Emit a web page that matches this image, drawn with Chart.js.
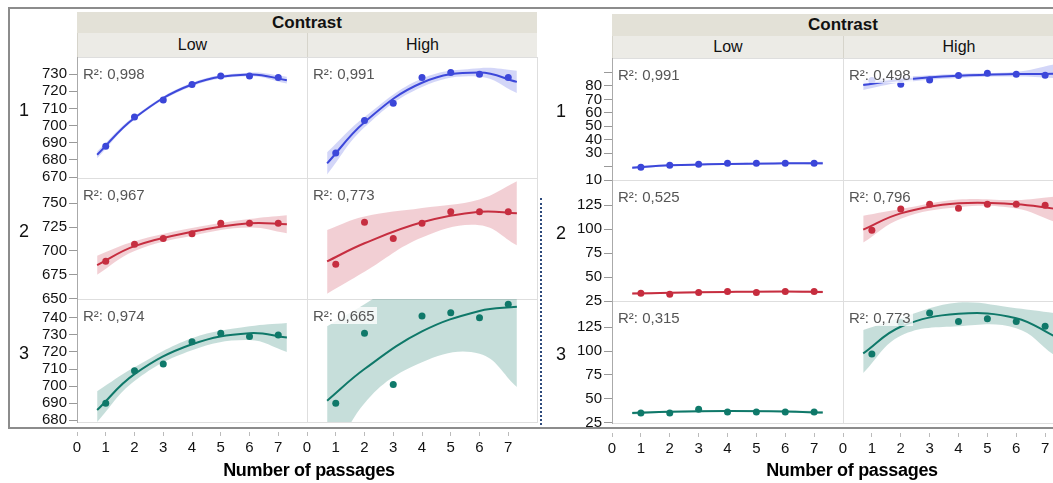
<!DOCTYPE html>
<html>
<head>
<meta charset="utf-8">
<script src="https://cdn.jsdelivr.net/npm/chart.js@4/dist/chart.umd.min.js"></script>
<style>
  body { margin: 0; width: 1053px; height: 483px; overflow: hidden; background: #fff;
         font-family: "Liberation Sans", Arial, sans-serif; }
  #fig { position: absolute; left: 0; top: 0; width: 1053px; height: 483px; overflow: hidden; }
  .a { position: absolute; box-sizing: border-box; }
  .hd1 { background: #e3e1d7; font-weight: bold; font-size: 17px; text-align: center; color: #111; }
  .hd2 { background: #ecebe6; font-size: 16px; text-align: center; color: #111; border-left: 1px solid #d6d4cb; }
  .cellbox { border: 1px solid #dedede; }
  .r2 { font-size: 15px; color: #555; background: rgba(255,255,255,0.78); padding: 0 2px; line-height: 17px; white-space: nowrap; }
  .rowlab { font-size: 18px; color: #111; width: 20px; text-align: center; }
  .xt { font-size: 18px; font-weight: bold; color: #000; letter-spacing: -0.3px; white-space: nowrap; text-align: center; width: 240px; }
</style>
</head>
<body>
<div id="fig"></div>
<script>
// x values
const passages = [1, 2, 3, 4, 5, 6, 7];
const fitX = [0.7, 2, 4, 6, 7.3];
const xTicks = [0, 1, 2, 3, 4, 5, 6, 7];

// left block: points, fitted curve and confidence band (lo / hi)
const aLow1 = [688, 705, 715, 724, 729, 729, 728];
const aLow1Fit = [683, 704.5, 724, 729.8, 726.5];
const aLow1Lo = [681, 703.5, 723, 728.8, 724.5];
const aLow1Hi = [685, 705.5, 725, 730.8, 728.5];

const aHigh1 = [684, 703, 713, 728, 731, 730, 728];
const aHigh1Fit = [678, 702, 725, 731, 725.5];
const aHigh1Lo = [671.5, 699, 722.5, 728.5, 719];
const aHigh1Hi = [684.5, 705, 727.5, 733.5, 732];

const aLow2 = [689, 707, 713, 718, 729, 729, 729];
const aLow2Fit = [685, 705, 720, 729, 728];
const aLow2Lo = [675, 700, 716, 724.5, 718.5];
const aLow2Hi = [695, 710, 724, 733.5, 737.5];

const aHigh2 = [686, 730, 713, 729, 741, 741, 741];
const aHigh2Fit = [689, 708, 730, 741, 739.5];
const aHigh2Lo = [655, 678, 714, 727, 706];
const aHigh2Hi = [722, 736, 745, 754, 773];

const aLow3 = [690, 709, 713, 726, 731, 729, 730];
const aLow3Fit = [686, 707, 724.5, 731, 728.5];
const aLow3Lo = [679, 703, 721, 727, 720];
const aLow3Hi = [697, 711, 728, 735, 737];

const aHigh3 = [690, 731, 701, 741, 743, 740, 748];
const aHigh3Fit = [691.5, 710, 732, 744, 746.5];
const aHigh3Lo = [648, 690, 714, 719, 699.5];
const aHigh3Hi = [735, 748, 768, 780, 793];

// right block
const bLow1 = [19.5, 21, 21.7, 22.4, 22.4, 22.4, 22.4];
const bLow1Fit = [19.2, 20.9, 22, 22.4, 22.4];
const bLow1Lo = [18.2, 20.2, 21.3, 21.7, 21.2];
const bLow1Hi = [20.2, 21.6, 22.7, 23.1, 23.6];

const bHigh1 = [84, 81.3, 84.5, 87.7, 89.4, 88.7, 88];
const bHigh1Fit = [80.7, 84.5, 87.5, 88.8, 89];
const bHigh1Lo = [77, 82.5, 86, 87, 86];
const bHigh1Hi = [84.5, 86.5, 89, 90.5, 96];

const bLow2 = [33, 32, 34, 35, 34, 35, 35];
const bLow2Fit = [32.8, 33.5, 34.5, 35, 34.5];
const bLow2Lo = [31.5, 32.5, 33.7, 34.2, 33];
const bLow2Hi = [34.1, 34.5, 35.3, 35.8, 36];

const bHigh2 = [99, 121, 126, 122, 126, 126, 125];
const bHigh2Fit = [99.5, 116.5, 127, 126, 121.5];
const bHigh2Lo = [86, 111, 123, 121.5, 108];
const bHigh2Hi = [114, 121, 131, 130.5, 134];

const bLow3 = [35, 35, 39, 36, 36, 36, 36];
const bLow3Fit = [35, 36.3, 37, 36.5, 35.5];
const bLow3Lo = [33.5, 35.2, 36, 35.5, 34];
const bLow3Hi = [36.5, 37.4, 38, 37.5, 37];

const bHigh3 = [97, 130, 140, 131, 134, 131, 126];
const bHigh3Fit = [97.5, 125.5, 139, 134.5, 116];
const bHigh3Lo = [77, 116, 126, 124, 96];
const bHigh3Hi = [122, 135, 151, 145, 140];

// R² labels, row by row (Low, High)
const aR2 = ['0,998', '0,991', '0,967', '0,773', '0,974', '0,665'];
const bR2 = ['0,991', '0,498', '0,525', '0,796', '0,315', '0,773'];

// y tick values per row
const aTicks1 = [670, 680, 690, 700, 710, 720, 730];
const aTicks2 = [650, 675, 700, 725, 750];
const aTicks3 = [680, 690, 700, 710, 720, 730, 740];
const bTicks1 = [10, 20, 30, 40, 50, 60, 70, 80, 90];
const bLabels1 = ['10', '', '30', '40', '50', '60', '70', '80', ''];
const bTicks2 = [25, 50, 75, 100, 125];
const bTicks3 = [25, 50, 75, 100, 125];

const colors = [
  { line: '#3a45d8', band: 'rgba(70,85,225,0.24)' },
  { line: '#c62c3d', band: 'rgba(200,55,75,0.24)' },
  { line: '#0f7a6b', band: 'rgba(15,115,100,0.24)' }
];

Chart.defaults.font.family = '"Liberation Sans", Arial, sans-serif';

const fig = document.getElementById('fig');
const AXW = 70, XH = 40, M = 12;

function div(cls, x, y, w, h, text, css) {
  const d = document.createElement('div');
  d.className = 'a ' + cls;
  d.style.left = x + 'px'; d.style.top = y + 'px';
  if (w != null) d.style.width = w + 'px';
  if (h != null) { d.style.height = h + 'px'; d.style.lineHeight = h + 'px'; }
  if (text != null) d.textContent = text;
  if (css) d.style.cssText += css;
  fig.appendChild(d);
  return d;
}

const xy = (xs, ys) => xs.map((x, i) => ({ x: x, y: ys[i] }));

function cell(px, py, w, h, o) {
  div('cellbox', px, py, w + 1, h + 1);
  // margins round the plot area so edge labels are not cut
  const pad = { left: o.yAxis ? 0 : M, right: M, top: M, bottom: o.xAxis ? 0 : M };
  const left = o.yAxis ? AXW : M;
  const bottom = o.xAxis ? XH : M;
  const cw = w + left + M, ch = h + M + bottom;
  const c = document.createElement('canvas');
  c.width = cw; c.height = ch;
  c.className = 'a';
  c.style.left = (px - left) + 'px'; c.style.top = (py - M) + 'px';
  c.style.width = cw + 'px'; c.style.height = ch + 'px';
  fig.appendChild(c);
  const col = colors[o.row];
  new Chart(c, {
    type: 'line',
    data: {
      datasets: [
        { data: xy(fitX, o.lo), borderColor: 'transparent', pointRadius: 0, fill: false, tension: 0.4, clip: 0 },
        { data: xy(fitX, o.hi), borderColor: 'transparent', pointRadius: 0, fill: '-1', backgroundColor: col.band, tension: 0.4, clip: 0 },
        { data: xy(fitX, o.fit), borderColor: col.line, borderWidth: 2, pointRadius: 0, fill: false, tension: 0.4, clip: 0 },
        { data: xy(passages, o.pts), showLine: false, pointRadius: 3.5, pointBorderWidth: 0,
          pointBackgroundColor: col.line, backgroundColor: col.line, clip: 0 }
      ]
    },
    options: {
      responsive: false, animation: false, devicePixelRatio: 1, events: [],
      layout: { padding: pad, autoPadding: false },
      plugins: { legend: { display: false }, tooltip: { enabled: false } },
      scales: {
        x: {
          type: 'linear', min: 0, max: 8, display: !!o.xAxis,
          afterBuildTicks: s => { s.ticks = xTicks.map(v => ({ value: v })); },
          afterFit: s => { if (o.xAxis) s.height = XH; s.paddingLeft = 0; s.paddingRight = 0; },
          ticks: { color: '#111', font: { size: 15 }, padding: 3, maxRotation: 0, autoSkip: false },
          grid: { drawOnChartArea: false, tickLength: 14, tickColor: '#bbb',
                  tickBorderDash: [4, 100], tickBorderDashOffset: -10 },
          border: { display: false }
        },
        y: {
          type: 'linear', min: o.range[0], max: o.range[1], display: !!o.yAxis,
          afterBuildTicks: s => { s.ticks = o.ticks.map(v => ({ value: v })); },
          afterFit: s => { if (o.yAxis) s.width = AXW; s.paddingTop = 0; s.paddingBottom = 0; },
          ticks: { color: '#111', font: { size: 15 }, padding: 2, autoSkip: false,
                   callback: (v, i) => o.labels ? o.labels[i] : String(v) },
          grid: { drawOnChartArea: false, tickLength: 8, tickColor: '#999' },
          border: { display: true, color: '#aaa', width: 1 }
        }
      }
    }
  });
  div('r2', px + 4, py + 8, null, null, 'R²: ' + o.r2);
}

// ---- left block ----
const aCols = [77, 307, 537];
const aRows = [57, 178, 299, 422];
div('hd1', 77, 12, 460, 21, 'Contrast');
div('hd2', 77, 33, 230, 24, 'Low');
div('hd2', 307, 33, 230, 24, 'High');

const aData = [
  [aLow1, aLow1Fit, aLow1Lo, aLow1Hi, aHigh1, aHigh1Fit, aHigh1Lo, aHigh1Hi, aTicks1, [669.5, 740]],
  [aLow2, aLow2Fit, aLow2Lo, aLow2Hi, aHigh2, aHigh2Fit, aHigh2Lo, aHigh2Hi, aTicks2, [649.5, 776.5]],
  [aLow3, aLow3Fit, aLow3Lo, aLow3Hi, aHigh3, aHigh3Fit, aHigh3Lo, aHigh3Hi, aTicks3, [679, 751]]
];
aData.forEach((d, r) => {
  const top = aRows[r], h = aRows[r + 1] - aRows[r];
  for (let k = 0; k < 2; k++) {
    cell(aCols[k], top, aCols[k + 1] - aCols[k], h, {
      row: r, pts: d[k * 4], fit: d[k * 4 + 1], lo: d[k * 4 + 2], hi: d[k * 4 + 3],
      ticks: d[8], range: d[9], yAxis: k === 0, xAxis: r === 2, r2: aR2[r * 2 + k]
    });
  }
  div('rowlab', 14, top + h / 2 - 18, null, 20, String(r + 1));
});

// ---- right block ----
const bCols = [612, 843, 1074];
const bRows = [58, 180, 301, 423];
div('hd1', 612, 14, 462, 22, 'Contrast');
div('hd2', 612, 36, 231, 22, 'Low');
div('hd2', 843, 36, 231, 22, 'High');

const bData = [
  [bLow1, bLow1Fit, bLow1Lo, bLow1Hi, bHigh1, bHigh1Fit, bHigh1Lo, bHigh1Hi, bTicks1, [10, 100.8], bLabels1],
  [bLow2, bLow2Fit, bLow2Lo, bLow2Hi, bHigh2, bHigh2Fit, bHigh2Lo, bHigh2Hi, bTicks2, [25, 151.4]],
  [bLow3, bLow3Fit, bLow3Lo, bLow3Hi, bHigh3, bHigh3Fit, bHigh3Lo, bHigh3Hi, bTicks3, [24.5, 152.5]]
];
bData.forEach((d, r) => {
  const top = bRows[r], h = bRows[r + 1] - bRows[r];
  for (let k = 0; k < 2; k++) {
    cell(bCols[k], top, bCols[k + 1] - bCols[k], h, {
      row: r, pts: d[k * 4], fit: d[k * 4 + 1], lo: d[k * 4 + 2], hi: d[k * 4 + 3],
      ticks: d[8], range: d[9], labels: d[10], yAxis: k === 0, xAxis: r === 2, r2: bR2[r * 2 + k]
    });
  }
  div('rowlab', 551, top + h / 2 - 18, null, 20, String(r + 1));
});

// frame lines, divider, axis titles
div('', 8, 7, 1060, 422, null, 'border:2px solid #8c8c8c;border-right:none;');
div('', 540, 198, 2, 227, null, 'border-left:2px dotted #2d4a7c;');
div('xt', 189, 458, null, 24, 'Number of passages');
div('xt', 732, 458, null, 24, 'Number of passages');
</script>
</body>
</html>
